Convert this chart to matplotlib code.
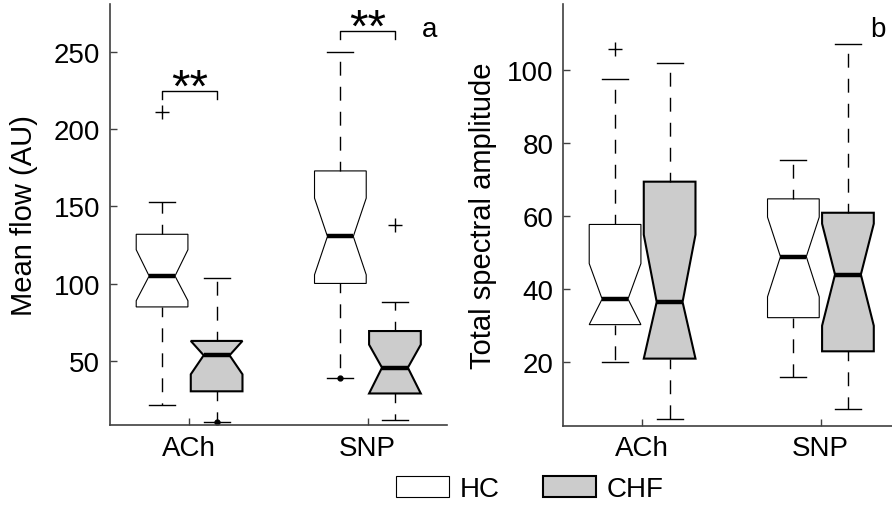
import numpy as np
import matplotlib
matplotlib.use('Agg')
import matplotlib.pyplot as plt
from matplotlib.patches import Patch

plt.rcParams['font.family'] = ['Liberation Sans', 'DejaVu Sans']
plt.rcParams['font.size'] = 20

groups = ['ACh', 'SNP']
series = ['HC', 'CHF']
colors = ['white', '#cccccc']
stat_keys = ['whislo', 'q1', 'cilo', 'med', 'cihi', 'q3', 'whishi']

# panel a - mean flow (AU), one row per group (ACh, SNP)
flow_hc = [[21.5, 85, 89, 105, 122, 132, 153],
           [39, 100.2, 105.8, 130.6, 155.4, 173, 250]]
flow_chf = [[10.7, 30.4, 41.4, 53.7, 63, 63, 103.4],
            [11.8, 29, 29, 45.7, 60.6, 69.4, 88.4]]
flow_hc_out = [[211], []]
flow_chf_out = [[], [138]]
flow_hc_dots = [[], [39]]
flow_chf_dots = [[10.7], []]

# panel b - total spectral amplitude
amp_hc = [[20.1, 30.3, 30.3, 37.3, 47, 57.7, 97.5],
          [16.1, 32.2, 37.9, 48.9, 59.7, 64.7, 75.3]]
amp_chf = [[4.4, 21, 21, 36.5, 54.9, 69.4, 101.8],
           [7.2, 23, 30, 44, 57.9, 60.9, 107.1]]
amp_hc_out = [[105.7], []]
amp_chf_out = [[], []]
amp_hc_dots = [[], []]
amp_chf_dots = [[], []]

# significance brackets for panel a
sig_y = [224.5, 263.4]
sig_text = ['**', '**']

offset = 0.153
width = 0.29
x = np.arange(1, len(groups) + 1)


def make_stats(rows, outs):
    stats = []
    for row, out in zip(rows, outs):
        d = dict(zip(stat_keys, row))
        d['fliers'] = out
        stats.append(d)
    return stats


def draw_panel(ax, data, outs, dots):
    for k in range(2):
        pos = x - offset if k == 0 else x + offset
        lw = 0.8 if k == 0 else 1.5
        ax.bxp(make_stats(data[k], outs[k]), positions=pos, widths=width,
               capwidths=width * 0.5, shownotches=True, patch_artist=True,
               manage_ticks=False,
               boxprops=dict(facecolor=colors[k], edgecolor='black', linewidth=lw),
               medianprops=dict(color='black', linewidth=3.2),
               whiskerprops=dict(color='black', linewidth=1, linestyle=(3, (10, 8))),
               capprops=dict(color='black', linewidth=1),
               flierprops=dict(marker='+', markersize=10, markeredgecolor='black',
                               markeredgewidth=1, linestyle='none'))
        for p, d in zip(pos, dots[k]):
            if d:
                ax.plot([p] * len(d), d, 'o', color='black', markersize=3.5)

    for s in ['top', 'right']:
        ax.spines[s].set_visible(False)
    for s in ['left', 'bottom']:
        ax.spines[s].set_color('#404040')
        ax.spines[s].set_linewidth(1.2)
    ax.tick_params(direction='in', length=5, width=1, color='#404040', pad=7)
    ax.set_xticks(x, groups)
    ax.set_xlim(0.555, 2.445)


fig = plt.figure(figsize=(8.92, 5.06), dpi=100)
ax1 = fig.add_axes([110 / 892, 80 / 506, 337 / 892, 421 / 506])
ax2 = fig.add_axes([563 / 892, 79.3 / 506, 337 / 892, 421.7 / 506])

draw_panel(ax1, [flow_hc, flow_chf], [flow_hc_out, flow_chf_out], [flow_hc_dots, flow_chf_dots])
ax1.set_ylim(8.6, 281)
ax1.set_yticks([50, 100, 150, 200, 250])
ax1.set_ylabel('Mean flow (AU)', fontsize=21)
ax1.yaxis.set_label_coords(-0.215, 0.5)
for i, y in enumerate(sig_y):
    x0, x1 = x[i] - offset, x[i] + offset
    ax1.plot([x0, x0, x1, x1], [y - 5, y, y, y - 5], color='black', lw=1)
    ax1.text((x0 + x1) / 2, y - 6, sig_text[i], ha='center', va='baseline',
             fontsize=34)
ax1.text(2.303, 260.4, 'a', ha='left', va='baseline', fontsize=20)

draw_panel(ax2, [amp_hc, amp_chf], [amp_hc_out, amp_chf_out], [amp_hc_dots, amp_chf_dots])
ax2.set_ylim(2.65, 118)
ax2.set_yticks([20, 40, 60, 80, 100])
ax2.set_ylabel('Total spectral amplitude', fontsize=21)
ax2.yaxis.set_label_coords(-0.195, 0.5)
ax2.text(2.28, 109.3, 'b', ha='left', va='baseline', fontsize=20)

handles = [Patch(facecolor=colors[0], edgecolor='black', linewidth=0.8, label=series[0]),
           Patch(facecolor=colors[1], edgecolor='black', linewidth=1.5, label=series[1])]
fig.legend(handles=handles, loc='center', bbox_to_anchor=(530 / 892, 1 - 490 / 506),
           ncol=2, frameon=False, handlelength=1.9, handleheight=0.76,
           handletextpad=0.4, columnspacing=1.55, borderpad=0, fontsize=20)

fig.savefig('out.png', dpi=100)
